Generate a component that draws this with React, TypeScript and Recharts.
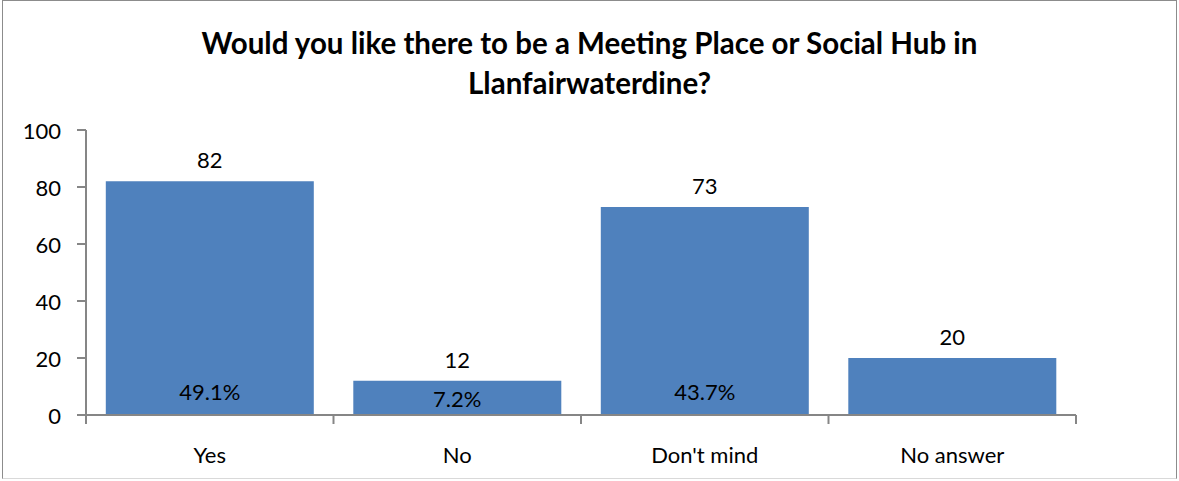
import React from "react";
import { BarChart, Bar, XAxis, YAxis, LabelList } from "recharts";

const TITLE_LINES = ["Would you like there to be a Meeting Place or Social Hub in", "Llanfairwaterdine?"];
const CATEGORIES = ["Yes", "No", "Don't mind", "No answer"];
const COUNTS = [82, 12, 73, 20];
const PERCENTS = ["49.1%", "7.2%", "43.7%", ""];
const Y_TICKS = [0, 20, 40, 60, 80, 100];

const data = CATEGORIES.map((c, i) => ({ name: c, count: COUNTS[i], pct: PERCENTS[i] }));

const FONT = "Lato, 'Open Sans', sans-serif";
const AXIS_COLOR = "#868686";
const BAR_COLOR = "#4f81bd";

const XTick = (props: any) => {
  const { x, y, payload, index } = props;
  const half = payload && typeof payload.offset === "number" ? payload.offset : 0;
  return (
    <g>
      <line x1={x - half} x2={x - half} y1={y} y2={y + 9} stroke={AXIS_COLOR} strokeWidth={2} />
      {index === CATEGORIES.length - 1 && (
        <line x1={x + half} x2={x + half} y1={y} y2={y + 9} stroke={AXIS_COLOR} strokeWidth={2} />
      )}
      <text x={x} y={y + 48} textAnchor="middle" fontFamily={FONT} fontSize={22} fill="#000">
        {payload.value}
      </text>
    </g>
  );
};

const YTick = (props: any) => {
  const { x, y, payload } = props;
  return (
    <text x={x} y={y + 9} textAnchor="end" fontFamily={FONT} fontSize={22} fill="#000">
      {payload.value}
    </text>
  );
};

const TopLabel = (props: any) => {
  const { x, y, width, value } = props;
  return (
    <text x={x + width / 2} y={y - 13} textAnchor="middle" fontFamily={FONT} fontSize={22} fill="#000">
      {value}
    </text>
  );
};

const BaseLabel = (props: any) => {
  const { x, y, width, height, value } = props;
  if (!value) return null;
  const bottom = y + height;
  const baseline = Math.max(bottom - 15, y + height / 2 + 9);
  return (
    <text x={x + width / 2} y={baseline} textAnchor="middle" fontFamily={FONT} fontSize={22} fill="#000">
      {value}
    </text>
  );
};

export default function App() {
  return (
    <div style={{ position: "absolute", left: 0, top: 0, width: 1179, height: 481, background: "#fff" }}>
      <div
        style={{
          position: "absolute",
          left: 2,
          top: 0,
          width: 1175,
          height: 479,
          border: "1px solid #8c8c8c",
          borderBottomColor: "#d9d9d9",
          boxSizing: "border-box",
        }}
      />
      <div
        style={{
          position: "absolute",
          left: 0,
          top: 23,
          width: 1179,
          textAlign: "center",
          fontFamily: FONT,
          fontWeight: 700,
          fontSize: 29.5,
          lineHeight: "40px",
          color: "#000",
        }}
      >
        {TITLE_LINES.map((l) => (
          <div key={l}>{l}</div>
        ))}
      </div>
      <div style={{ position: "absolute", left: 0, top: 0 }}>
        <BarChart
          width={1179}
          height={481}
          data={data}
          margin={{ top: 130, right: 103, left: 0, bottom: 0 }}
          barCategoryGap="8%"
        >
          <XAxis
            dataKey="name"
            height={66}
            tickSize={0}
            tickMargin={0}
            tickLine={false}
            axisLine={{ stroke: AXIS_COLOR, strokeWidth: 2 }}
            tick={<XTick />}
            interval={0}
          />
          <YAxis
            width={86}
            domain={[0, 100]}
            ticks={Y_TICKS}
            tickSize={9}
            tickMargin={16}
            axisLine={{ stroke: AXIS_COLOR, strokeWidth: 2 }}
            tickLine={{ stroke: AXIS_COLOR, strokeWidth: 2 }}
            tick={<YTick />}
          />
          <Bar dataKey="count" fill={BAR_COLOR} isAnimationActive={false}>
            <LabelList dataKey="count" content={<TopLabel />} />
            <LabelList dataKey="pct" content={<BaseLabel />} />
          </Bar>
        </BarChart>
      </div>
    </div>
  );
}
